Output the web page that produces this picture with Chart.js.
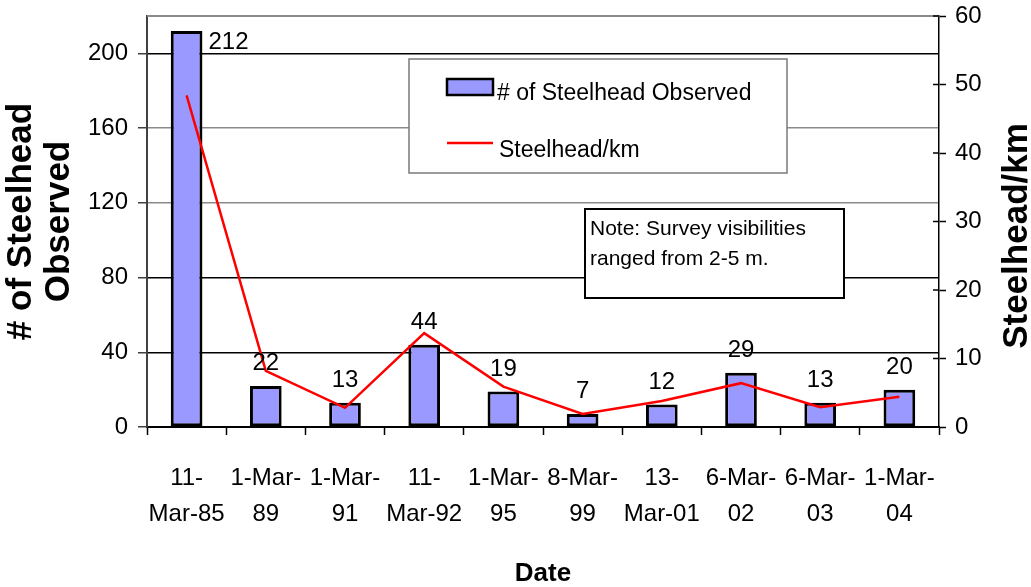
<!DOCTYPE html>
<html>
<head>
<meta charset="utf-8">
<title>Steelhead Observed</title>
<script src="https://cdn.jsdelivr.net/npm/chart.js@4.4.1/dist/chart.umd.min.js"></script>
<style>
  html, body { margin: 0; padding: 0; background: #ffffff; }
  #wrap { width: 1031px; height: 587px; }
</style>
</head>
<body>
<div id="wrap"><canvas id="chart" width="1031" height="587"></canvas></div>
<script>
// Survey dates (two-line labels as printed under each bar)
const surveyDates = [
  ['11-', 'Mar-85'], ['1-Mar-', '89'], ['1-Mar-', '91'], ['11-', 'Mar-92'], ['1-Mar-', '95'],
  ['8-Mar-', '99'], ['13-', 'Mar-01'], ['6-Mar-', '02'], ['6-Mar-', '03'], ['1-Mar-', '04']
];
// Total fish counted on each survey
const steelheadObserved = [212, 22, 13, 44, 19, 7, 12, 29, 13, 20];
// Density along the surveyed reach
const steelheadPerKm = [48.4, 8.2, 2.8, 13.7, 5.9, 1.9, 3.8, 6.4, 2.9, 4.4];
// Axis tick values
const countTicks = [0, 40, 80, 120, 160, 200];
const densityTicks = [0, 10, 20, 30, 40, 50, 60];
const densityTitle = 'Steelhead/km';
const noteLines = ['Note: Survey visibilities', 'ranged from 2-5 m.'];

const FONT = "'Liberation Sans', Arial, Helvetica, sans-serif";

// Fixed axis boxes so the plot area keeps its place
function pinVertical(width) {
  return function (s) {
    s.width = width;
    s.paddingTop = 0;
    s.paddingBottom = 0;
  };
}

// Value labels above bars; the tallest one sits beside its bar
const barValueLabels = {
  id: 'barValueLabels',
  afterDatasetsDraw(chart) {
    const ctx = chart.ctx;
    const meta = chart.getDatasetMeta(0);
    const values = chart.data.datasets[0].data;
    ctx.save();
    ctx.font = '24px ' + FONT;
    ctx.fillStyle = '#000';
    meta.data.forEach((bar, i) => {
      const txt = String(values[i]);
      if (bar.y - 40 < chart.chartArea.top) {
        ctx.textAlign = 'left';
        ctx.textBaseline = 'top';
        ctx.fillText(txt, bar.x + bar.width / 2 + 6, bar.y - 1);
      } else {
        ctx.textAlign = 'center';
        ctx.textBaseline = 'alphabetic';
        ctx.fillText(txt, bar.x, bar.y - 16);
      }
    });
    ctx.restore();
  }
};

// Top frame line and the inner half of the right-axis ticks
const plotFrame = {
  id: 'plotFrame',
  beforeDatasetsDraw(chart) {
    const { ctx, chartArea } = chart;
    ctx.save();
    ctx.strokeStyle = '#8a8a8a';
    ctx.lineWidth = 2;
    ctx.beginPath();
    ctx.moveTo(chartArea.left, chartArea.top);
    ctx.lineTo(chartArea.right, chartArea.top);
    ctx.stroke();
    const y1 = chart.scales.y1;
    ctx.strokeStyle = '#000';
    ctx.lineWidth = 1.5;
    y1.ticks.forEach(t => {
      const py = y1.getPixelForValue(t.value);
      ctx.beginPath();
      ctx.moveTo(chartArea.right - 6, py);
      ctx.lineTo(chartArea.right, py);
      ctx.stroke();
    });
    ctx.restore();
  }
};

// Right-axis title reading bottom-to-top, legend box and survey note
const boxes = {
  id: 'boxes',
  afterDraw(chart) {
    const ctx = chart.ctx;
    const ds = chart.data.datasets;
    ctx.save();
    // right axis title
    ctx.save();
    ctx.translate(1017, 236);
    ctx.rotate(-Math.PI / 2);
    ctx.font = 'bold 35px ' + FONT;
    ctx.fillStyle = '#000';
    ctx.textAlign = 'center';
    ctx.textBaseline = 'middle';
    ctx.fillText(densityTitle, 0, 0);
    ctx.restore();
    // legend
    ctx.fillStyle = '#fff';
    ctx.fillRect(409, 59, 378, 114);
    ctx.strokeStyle = '#7a7a7a';
    ctx.lineWidth = 1.5;
    ctx.strokeRect(409, 59, 378, 114);
    ctx.fillStyle = ds[0].backgroundColor;
    ctx.fillRect(447, 79, 46, 16);
    ctx.strokeStyle = '#000';
    ctx.lineWidth = 2.5;
    ctx.strokeRect(447, 79, 46, 16);
    ctx.strokeStyle = ds[1].borderColor;
    ctx.lineWidth = 2.5;
    ctx.beginPath();
    ctx.moveTo(447, 143);
    ctx.lineTo(493, 143);
    ctx.stroke();
    ctx.fillStyle = '#000';
    ctx.font = '23px ' + FONT;
    ctx.textAlign = 'left';
    ctx.textBaseline = 'middle';
    ctx.fillText(ds[0].label, 497, 94);
    ctx.fillText(ds[1].label, 499, 151);
    // note
    ctx.fillStyle = '#fff';
    ctx.fillRect(585, 209, 259, 89);
    ctx.strokeStyle = '#000';
    ctx.lineWidth = 2;
    ctx.strokeRect(585, 209, 259, 89);
    ctx.fillStyle = '#000';
    ctx.font = '21px ' + FONT;
    ctx.fillText(noteLines[0], 590, 229);
    ctx.fillText(noteLines[1], 590, 259);
    ctx.restore();
  }
};

new Chart(document.getElementById('chart'), {
  data: {
    labels: surveyDates,
    datasets: [
      {
        type: 'bar',
        label: '# of Steelhead Observed',
        data: steelheadObserved,
        backgroundColor: '#9999FF',
        borderColor: '#000000',
        borderWidth: 3,
        borderSkipped: false,
        barPercentage: 0.4,
        categoryPercentage: 1.0,
        yAxisID: 'y',
        order: 2
      },
      {
        type: 'line',
        label: densityTitle,
        data: steelheadPerKm,
        borderColor: '#FF0000',
        borderWidth: 2.5,
        pointRadius: 0,
        tension: 0,
        fill: false,
        yAxisID: 'y1',
        order: 1
      }
    ]
  },
  options: {
    responsive: false,
    animation: false,
    devicePixelRatio: 1,
    layout: { padding: { top: 16, left: 0, right: 0, bottom: 0 } },
    plugins: {
      legend: { display: false },
      tooltip: { enabled: false }
    },
    scales: {
      x: {
        type: 'category',
        afterFit(s) { s.height = 160; s.paddingLeft = 0; s.paddingRight = 0; },
        grid: { offset: true, drawOnChartArea: false, tickLength: 8, tickColor: '#000', tickWidth: 1.5 },
        border: { display: true, color: '#000', width: 2 },
        ticks: {
          autoSkip: false, maxRotation: 0, minRotation: 0,
          color: '#000', padding: 25,
          font: { family: FONT, size: 24, lineHeight: 1.5 }
        },
        title: {
          display: true, text: 'Date', color: '#000',
          padding: { top: 0, bottom: 0 },
          font: { family: FONT, size: 26, weight: 'bold', lineHeight: 1.0 }
        }
      },
      y: {
        type: 'linear',
        position: 'left',
        min: 0, max: 220,
        afterFit: pinVertical(147),
        afterBuildTicks(s) { s.ticks = countTicks.map(v => ({ value: v })); },
        grid: {
          color(c) { return (c.tick && (c.tick.value === 160 || c.tick.value === 120)) ? '#8a8a8a' : '#000'; },
          lineWidth: 1.5,
          tickLength: 9, tickColor: '#404040', tickWidth: 1.5
        },
        border: { display: true, color: '#404040', width: 2 },
        ticks: { color: '#000', padding: 10, font: { family: FONT, size: 24 } },
        title: {
          display: true, text: ['# of Steelhead', 'Observed'], color: '#000',
          padding: { top: 2, bottom: 0 },
          font: { family: FONT, size: 35, weight: 'bold', lineHeight: 1.086 }
        }
      },
      y1: {
        type: 'linear',
        position: 'right',
        min: 0, max: 60,
        afterFit: pinVertical(92),
        afterBuildTicks(s) { s.ticks = densityTicks.map(v => ({ value: v })); },
        grid: { drawOnChartArea: false, tickLength: 7, tickColor: '#000', tickWidth: 1.5 },
        border: { display: true, color: '#000', width: 1.5 },
        ticks: { color: '#000', padding: 9, font: { family: FONT, size: 24 } },
        title: { display: false }
      }
    }
  },
  plugins: [plotFrame, barValueLabels, boxes]
});
</script>
</body>
</html>
